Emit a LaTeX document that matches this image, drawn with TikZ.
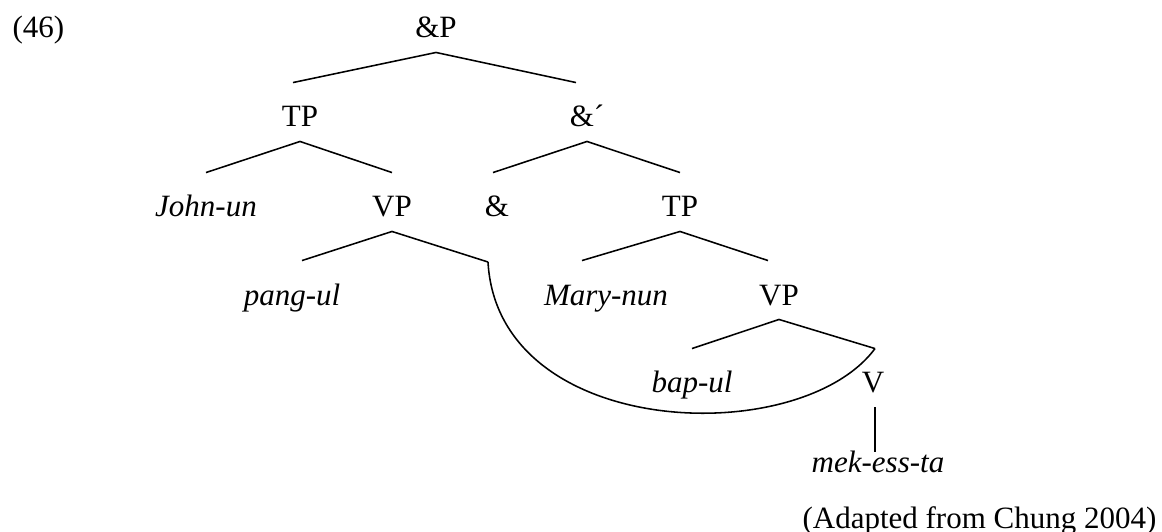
\documentclass[tikz,border=0pt]{standalone}
\usepackage{fontspec}
\setmainfont{Liberation Serif}
\tikzset{
  cat/.style={inner sep=0pt, anchor=base, text height=17pt, text depth=5.4pt, font=\fontsize{12}{14}\selectfont},
  word/.style={cat, font=\fontsize{12}{14}\selectfont\itshape},
  branch/.style={line width=0.6pt},
}
\begin{document}
\begin{tikzpicture}[x=0.387pt, y=-0.387pt]
    \useasboundingbox (0,0) rectangle (1162,532);
    \node[cat, anchor=base west] (ex) at (12,38) {(46)};

    \node[cat] (andP) at (436,38) {\&P};
    \node[cat] (tpA) at (300,127) {TP};
    \node[cat] (andBar) at (587,127) {\&´};
    \node[word] (john) at (206,217) {John-un};
    \node[cat] (vpA) at (392,217) {VP};
    \node[cat] (and) at (497,217) {\&};
    \node[cat] (tpB) at (680,217) {TP};
    \node[word] (pang) at (292,305) {pang-ul};
    \node[word] (mary) at (606,305) {Mary-nun};
    \node[cat] (vpB) at (779,305) {VP};
    \node[word] (bap) at (692,393) {bap-ul};
    \node[cat] (v) at (873,393) {V};
    \node[word, text height=8pt] (mek) at (878,473) {mek-ess-ta};
    \node[cat, anchor=base east] (src) at (1157,528) {(Adapted from Chung 2004)};

    \draw[branch] (andP.south) -- ([shift={(-7,0)}]tpA.north);
    \draw[branch] (andP.south) -- ([shift={(-11,0)}]andBar.north);
    \draw[branch] (tpA.south) -- (john.north);
    \draw[branch] (tpA.south) -- (vpA.north);
    \draw[branch] (andBar.south) -- ([shift={(-4,0)}]and.north);
    \draw[branch] (andBar.south) -- (tpB.north);
    \draw[branch] (vpA.south) -- ([shift={(10,0)}]pang.north);
    \coordinate (gap) at (488,262);
    \draw[branch] (vpA.south) -- (gap);
    \draw[branch] (tpB.south) -- ([shift={(-24,0)}]mary.north);
    \draw[branch] (tpB.south) -- ([shift={(-11,0)}]vpB.north);
    \draw[branch] (vpB.south) -- (bap.north);
    \draw[branch] (vpB.south) -- ([shift={(2,0)}]v.north);
    \draw[branch] ([shift={(2,0)}]v.south) -- ([shift={(2,0)}]v.south |- mek.north);

    \draw[branch] (gap) .. controls (498,440) and (800,450) .. ([shift={(2,0)}]v.north);
\end{tikzpicture}
\end{document}
